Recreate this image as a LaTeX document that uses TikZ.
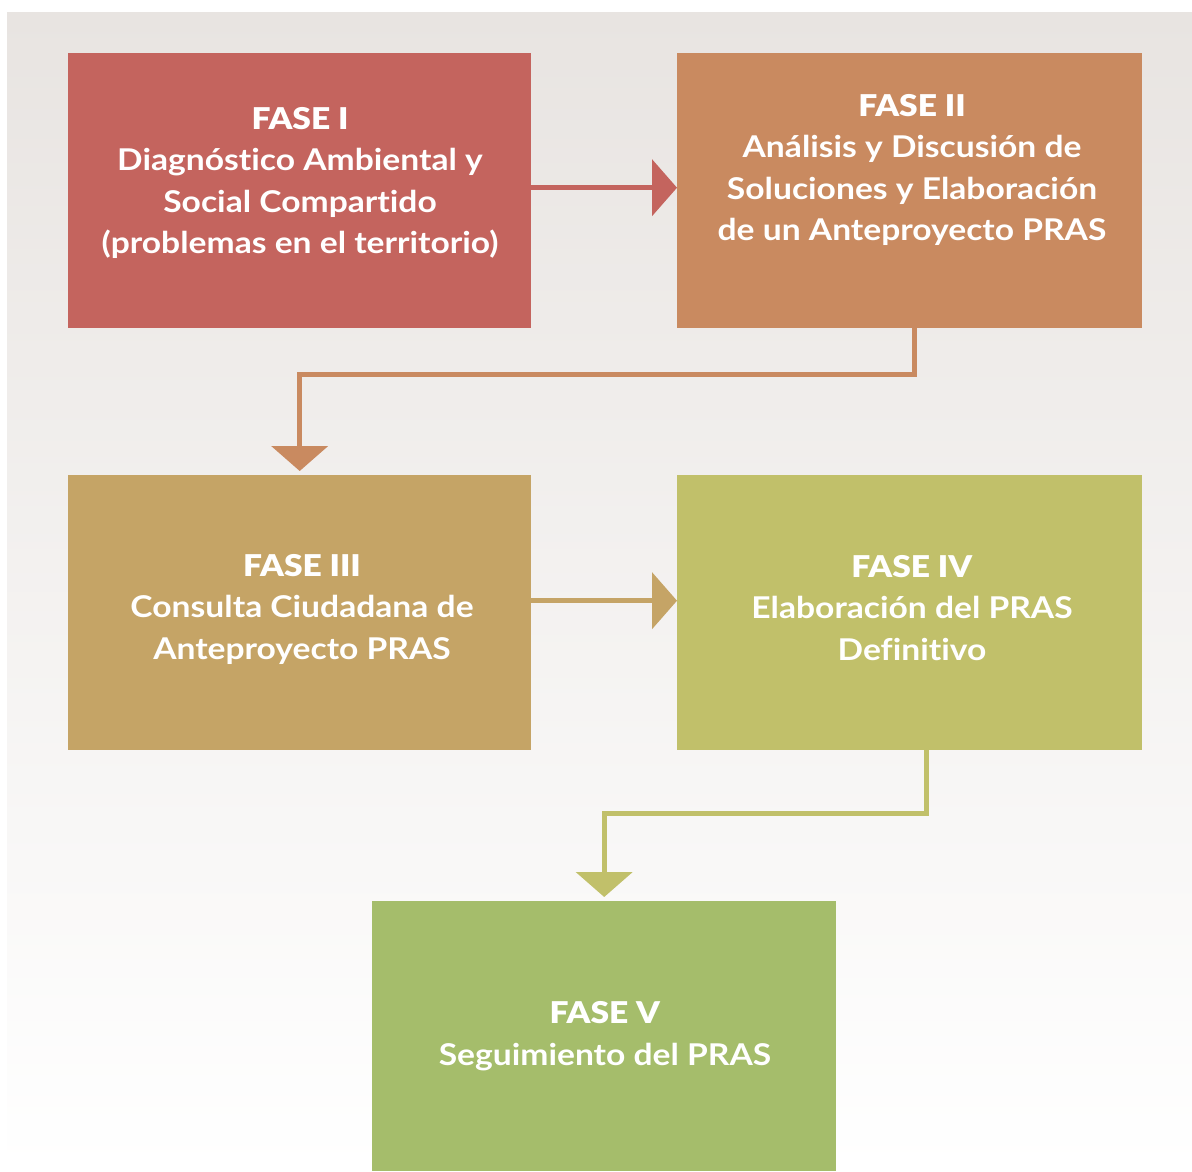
\documentclass[tikz,border=0pt]{standalone}
\usepackage{fontspec}
\setmainfont{Lato}[UprightFont=* Bold, BoldFont=* Black, FakeStretch=1.12, Ligatures=NoCommon]
\usetikzlibrary{arrows.meta,calc}
\definecolor{c1}{RGB}{196,100,94}
\definecolor{c2}{RGB}{201,138,96}
\definecolor{c3}{RGB}{197,164,102}
\definecolor{c4}{RGB}{193,192,106}
\definecolor{c5}{RGB}{165,189,107}
\definecolor{bgtop}{RGB}{232,228,225}
\definecolor{bgmid}{RGB}{237,234,231}
\begin{document}
\begin{tikzpicture}[x=1pt,y=-1pt,
  box/.style={fill=#1, draw=none, minimum width=463pt, minimum height=275pt, inner sep=0pt, anchor=north west},
  lbl/.style={text=white, align=center, inner sep=0pt, font=\fontsize{30}{41.5}\selectfont},
  conn/.style={draw=#1, line width=5pt, -{Triangle[length=25pt,width=56pt]}}]
\useasboundingbox (0,0) rectangle (1192,1171);
\fill[white] (0,0) rectangle (1192,1171);
\shade[top color=bgtop, middle color=bgmid, bottom color=white] (7,12) rectangle (1192,1171);
\node[box=c1] (b1) at (68,53) {};
\node[box=c2, minimum width=465pt] (b2) at (677,53) {};
\node[box=c3] (b3) at (68,475) {};
\node[box=c4, minimum width=465pt] (b4) at (677,475) {};
\node[box=c5, minimum width=464pt, minimum height=270pt] (b5) at (372,901) {};
\node[lbl] (t1) at (300,183) {\textbf{FASE I}\\Diagnóstico Ambiental y\\Social Compartido\\(problemas en el territorio)};
\node[lbl] (t2) at (912,170) {\textbf{FASE II}\\Análisis y Discusión de\\Soluciones y Elaboración\\de un Anteproyecto PRAS};
\node[lbl] (t3) at (302,609) {\textbf{FASE III}\\Consulta Ciudadana de\\Anteproyecto PRAS};
\node[lbl] (t4) at (912,608) {\textbf{FASE IV}\\Elaboración del PRAS\\Definitivo};
\node[lbl] (t5) at (605,1036) {\textbf{FASE V}\\Seguimiento del PRAS};
\draw[conn=c1] ([yshift=3pt]b1.east) -- ([yshift=3pt]b2.west);
\draw[conn=c2, shorten >=4pt] ([xshift=5pt]b2.south) -- ++(0,46) -| (b3.north);
\draw[conn=c3] ([yshift=12pt]b3.east) -- ([yshift=12pt]b4.west);
\draw[conn=c4, shorten >=4pt] ([xshift=16.5pt]b4.south) -- ++(0,63) -| (b5.north);
\end{tikzpicture}
\end{document}
